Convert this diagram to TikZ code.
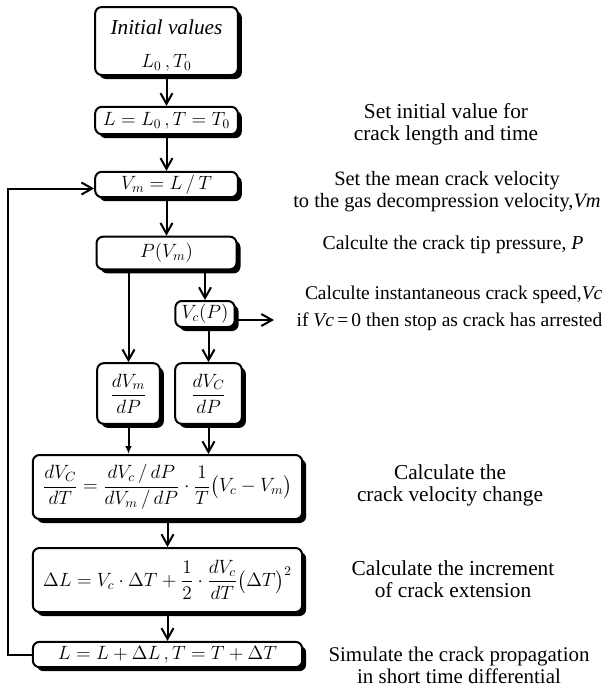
\documentclass[tikz,border=0pt]{standalone}
\usepackage{amsmath}
\usepackage{fontspec}
\setmainfont{Liberation Serif}
\usetikzlibrary{arrows.meta,shadows,positioning,calc}

\begin{document}
\begin{tikzpicture}[x=0.75pt,y=-0.75pt,font=\fontsize{14}{16}\selectfont]
\tikzstyle{block}=[draw=black,line width=1.5pt,rounded corners=5pt,fill=white,align=center,inner sep=0pt,
  drop shadow={shadow xshift=3pt,shadow yshift=-3pt,fill=black,opacity=1}]
\tikzstyle{note}=[align=center,font=\fontsize{16}{16.5}\selectfont]
\tikzstyle{flow}=[-{Straight Barb[length=8pt,width=9pt,line width=1.5pt]},line width=1.5pt]
\tikzstyle{pass}=[-{Latex[length=6pt,width=5pt]},line width=1.5pt]

\useasboundingbox (0,0) rectangle (614,686);

% main column
\node[block,minimum width=107pt,minimum height=51pt] (init) at (166.5,41)
  {{\fontsize{16}{16}\selectfont\rule{0pt}{18pt}\textit{Initial values}}\\[9pt] $L_0\,,T_0$};
\node[block,minimum width=107pt,minimum height=20.5pt] (start) at (166.5,120.5) {$L=L_0\,,T=T_0$};
\node[block,minimum width=107pt,minimum height=19pt] (vm) at (166.5,184.5) {$V_m=L\,/\,T$};
\node[block,minimum width=105pt,minimum height=24.5pt] (press) at (166.5,253) {$P(V_m)$};
\node[block,minimum width=44.5pt,minimum height=19.5pt] (vcp) at (205,314) {$V_c(P)$};
\node[block,minimum width=47pt,minimum height=45.5pt] (dvm) at (128.5,393.5) {$\dfrac{dV_m}{dP}$};
\node[block,minimum width=50pt,minimum height=45.5pt] (dvc) at (208.5,393.5) {$\dfrac{dV_C}{dP}$};
\node[block,minimum width=202pt,minimum height=48pt] (dvdt) at (167.5,487)
  {$\dfrac{dV_C}{dT}=\dfrac{dV_c\,/\,dP}{dV_m\,/\,dP}\cdot\dfrac{1}{T}\bigl(V_c-V_m\bigr)$};
\node[block,minimum width=202pt,minimum height=48pt] (dl) at (167.5,580)
  {$\Delta L=V_c\cdot\Delta T+\dfrac{1}{2}\cdot\dfrac{dV_c}{dT}\bigl(\Delta T\bigr)^2$};
\node[block,minimum width=202pt,minimum height=19pt] (upd) at (167.5,654.5) {$L=L+\Delta L\,,T=T+\Delta T$};

% notes on the right
\node[note] (n1) at (446,124) {Set initial value for\\crack length and time};
\node[note,font=\fontsize{15.3}{16.5}\selectfont] (n2) at (447,192) {Set the mean crack velocity\\to the gas decompression velocity,\textit{Vm}};
\node[note,font=\fontsize{14.8}{16.5}\selectfont] (n3) at (453,245) {Calculte the crack tip pressure, \textit{P}};
\node[note,align=right,anchor=east,font=\fontsize{14.6}{20}\selectfont] (n4) at (607,308)
  {Calculte instantaneous crack speed,\textit{Vc}\\if \textit{Vc}\,=\,0 then stop as crack has arrested};
\node[note] (n5) at (450,485) {Calculate the\\crack velocity change};
\node[note] (n6) at (453,579) {Calculate the increment\\of crack extension};
\node[note,font=\fontsize{15.7}{16.5}\selectfont] (n7) at (459,665) {Simulate the crack propagation\\in short time differential};

\coordinate (stop) at (274,320);
\coordinate (back) at (8,420);

\draw[flow] (init) -- (start);
\draw[flow] (start) -- (vm);
\draw[flow] (vm) -- (press);
\draw[flow] (press.south -| vcp) -- (vcp);
\draw[flow] (press.south -| dvm) -- (dvm);
\draw[flow] (vcp.south -| dvc) -- (dvc);
\draw[flow] (vcp.east |- stop) -- (stop);
\draw[pass] (dvm) -- (dvm.south |- dvdt.north);
\draw[flow] (dvc) -- (dvc.south |- dvdt.north);
\draw[flow] (dvdt) -- (dl);
\draw[flow] (dl) -- (upd);
\draw[flow] (upd.west) -| (back) |- ([yshift=-3pt]vm.west);
\end{tikzpicture}
\end{document}
